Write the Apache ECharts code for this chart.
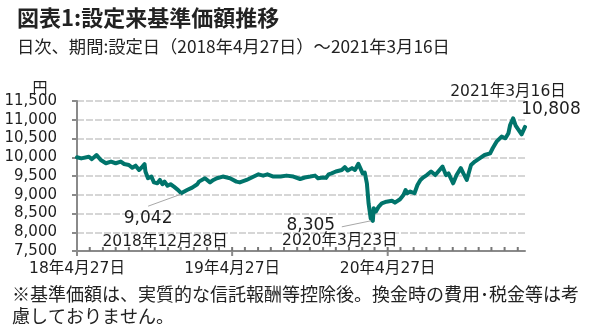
<!DOCTYPE html>
<html>
<head>
<meta charset="utf-8">
<script src="https://cdn.jsdelivr.net/npm/echarts@6/dist/echarts.min.js"></script>
<style>
  html, body { margin: 0; padding: 0; background: #fff; }
  #chart { width: 596px; height: 329px; }
</style>
</head>
<body>
<div id="chart"></div>
<script>
// Fund NAV (基準価額) since inception, yen
const navDates = [
  '2018-04-27','2018-05-07','2018-05-25','2018-06-01','2018-06-12','2018-06-22','2018-07-04','2018-07-16',
  '2018-07-27','2018-08-08','2018-08-16','2018-08-27','2018-09-04','2018-09-12','2018-09-20','2018-09-28',
  '2018-10-03','2018-10-05','2018-10-11','2018-10-19','2018-10-25','2018-11-02','2018-11-08','2018-11-14',
  '2018-11-19','2018-11-26','2018-12-03','2018-12-11','2018-12-14','2018-12-21','2018-12-28','2019-01-11',
  '2019-01-23','2019-02-04','2019-02-08','2019-02-22','2019-03-06','2019-03-14','2019-03-22','2019-04-05',
  '2019-04-22','2019-05-07','2019-05-15','2019-05-31','2019-06-17','2019-06-28','2019-07-09','2019-07-19',
  '2019-08-02','2019-08-19','2019-09-02','2019-09-18','2019-10-04','2019-10-15','2019-10-28','2019-11-08',
  '2019-11-15','2019-11-27','2019-12-04','2019-12-10','2019-12-17','2019-12-27','2020-01-10','2020-01-17',
  '2020-01-24','2020-02-03','2020-02-10','2020-02-18','2020-02-21','2020-02-28','2020-03-04','2020-03-09',
  '2020-03-13','2020-03-18','2020-03-23','2020-03-25','2020-03-30','2020-04-06','2020-04-13','2020-04-24',
  '2020-05-07','2020-05-14','2020-05-26','2020-06-03','2020-06-08','2020-06-12','2020-06-19','2020-06-29',
  '2020-07-06','2020-07-13','2020-07-20','2020-07-28','2020-08-07','2020-08-17','2020-08-24','2020-09-03',
  '2020-09-11','2020-09-17','2020-09-28','2020-10-06','2020-10-16','2020-10-22','2020-10-30','2020-11-09',
  '2020-11-18','2020-11-30','2020-12-11','2020-12-24','2020-12-30','2021-01-08','2021-01-20','2021-01-29',
  '2021-02-05','2021-02-09','2021-02-16','2021-02-22','2021-02-26','2021-03-08','2021-03-16'
];
const navValues = [
  10000, 9970, 10015, 9950, 10060, 9925, 9840, 9885,
  9840, 9885, 9820, 9795, 9720, 9775, 9660, 9750,
  9815, 9620, 9440, 9485, 9330, 9305, 9395, 9280,
  9350, 9240, 9280, 9215, 9170, 9125, 9042, 9125,
  9190, 9280, 9350, 9440, 9330, 9395, 9440, 9485,
  9440, 9350, 9330, 9395, 9485, 9545, 9510, 9545,
  9485, 9485, 9510, 9485, 9420, 9460, 9485, 9510,
  9440, 9460, 9450, 9545, 9570, 9620, 9660, 9735,
  9645, 9710, 9660, 9825, 9795, 9570, 9590, 9305,
  8770, 8370, 8305, 8640, 8550, 8685, 8770, 8815,
  8840, 8790, 8880, 8995, 9125, 9040, 9085, 9040,
  9260, 9395, 9465, 9525, 9620, 9525, 9620, 9750,
  9525, 9570, 9305, 9525, 9710, 9570, 9395, 9795,
  9885, 9975, 10060, 10105, 10240, 10415, 10550, 10505,
  10640, 10860, 11040, 10845, 10775, 10610, 10808
];

// Axis ticks
const yMin = 7500, yMax = 11500, yStep = 500;
const xStart = '2018-04-27', xEnd = '2021-03-16';
const xTickDates = ['2018-04-27', '2019-04-27', '2020-04-27'];
const xTickLabels = ['18年4月27日', '19年4月27日', '20年4月27日'];

// Callouts: low points and latest value
const callouts = [
  { date: '2018-12-28', dateText: '2018年12月28日' },
  { date: '2020-03-23', dateText: '2020年3月23日' },
  { date: '2021-03-16', dateText: '2021年3月16日' }
];

const titleText = '図表1:設定来基準価額推移';
const subtitleText = '日次、期間:設定日（2018年4月27日）～2021年3月16日';
const noteLines = ['※基準価額は、実質的な信託報酬等控除後。換金時の費用･税金等は考', '慮しておりません。'];
const unitText = '円';

// dates are placed on a linear (millisecond) value axis
const ts = d => echarts.number.parseDate(d).getTime();

// small monthly ticks on the 27th of each month
const monthTicks = [];
for (let y = 2018, m = 5; y < 2021 || (y === 2021 && m <= 2); ) {
  monthTicks.push(ts(y + '-' + String(m).padStart(2, '0') + '-27'));
  m++; if (m > 12) { m = 1; y++; }
}

const LINE_COLOR = '#00746b';
const AXIS_COLOR = '#8a8a8a';
const TEXT_COLOR = '#1e1e1e';
const NUM_FONT = '"DejaVu Sans", "Noto Sans CJK JP", sans-serif';
const JP_FONT = '"Noto Sans CJK JP", sans-serif';

const fmt = v => v.toLocaleString('en-US');
const xTickValues = xTickDates.map(ts);
const labelByTs = {};
xTickValues.forEach((t, i) => { labelByTs[t] = xTickLabels[i]; });
const navPoints = navDates.map((d, i) => [ts(d), navValues[i]]);

const chart = echarts.init(document.getElementById('chart'), null, { renderer: 'canvas' });

chart.setOption({
  animation: false,
  backgroundColor: '#fff',
  title: [
    { text: titleText, left: 12, top: 2,
      textStyle: { fontFamily: JP_FONT, fontSize: 22, fontWeight: 'bold', color: '#222' } },
    { text: subtitleText, left: 12, top: 33,
      textStyle: { fontFamily: JP_FONT, fontSize: 17.3, fontWeight: 'normal', color: '#222' } }
  ],
  grid: { left: 77, right: 71, top: 101, bottom: 78, containLabel: false },
  xAxis: {
    type: 'value', min: ts(xStart), max: ts(xEnd),
    axisLine: { onZero: false, lineStyle: { color: AXIS_COLOR, width: 2 } },
    axisTick: { show: false },
    axisLabel: {
      customValues: xTickValues, margin: 10, fontFamily: NUM_FONT, fontSize: 15.5, color: TEXT_COLOR,
      formatter: v => labelByTs[v] || ''
    },
    splitLine: { show: false }
  },
  yAxis: {
    type: 'value', min: yMin, max: yMax, interval: yStep,
    axisLine: { show: true, lineStyle: { color: AXIS_COLOR, width: 2 } },
    axisTick: { show: true, length: 5, lineStyle: { color: AXIS_COLOR, width: 2 } },
    axisLabel: { margin: 20, fontFamily: NUM_FONT, fontSize: 15, color: TEXT_COLOR, formatter: v => fmt(v) },
    splitLine: { show: true, lineStyle: { color: '#c9c9c9', width: 1.5, type: [7, 2] } }
  },
  series: [{
    type: 'line', data: navPoints, showSymbol: false,
    lineStyle: { color: LINE_COLOR, width: 4, join: 'round', cap: 'round' },
    z: 5
  }]
});

const graphics = [];
const toPx = (x, y) => chart.convertToPixel({ xAxisIndex: 0, yAxisIndex: 0 }, [x, y]);
const seg = (x1, y1, x2, y2, color, w) => ({
  type: 'line', z: 9, shape: { x1, y1, x2, y2 }, style: { stroke: color, lineWidth: w }
});
const txt = (x, y, text, align, font, size) => ({
  type: 'text', x, y, z: 10,
  style: { text, fill: TEXT_COLOR, font: size + 'px ' + font, align, verticalAlign: 'middle' }
});

// x-axis ticks: yearly ticks below the axis, monthly ticks inside
const axisY = toPx(ts(xStart), yMin)[1];
xTickValues.forEach(t => { const x = toPx(t, yMin)[0]; graphics.push(seg(x, axisY, x, axisY + 5, AXIS_COLOR, 2)); });
monthTicks.forEach(t => { const x = toPx(t, yMin)[0]; graphics.push(seg(x, axisY, x, axisY - 4, '#777', 2)); });

// callout text and leader lines, anchored on the data points
callouts.forEach((c, k) => {
  const v = navValues[navDates.indexOf(c.date)];
  const [px, py] = toPx(ts(c.date), v);
  if (k === 0) {
    graphics.push(seg(px, py + 1, px - 33, py + 13, '#a8a8a8', 1));
    graphics.push(txt(px - 33, py + 25, fmt(v), 'center', NUM_FONT, 17));
    graphics.push(txt(px - 16, py + 49, c.dateText, 'center', NUM_FONT, 15.5));
  } else if (k === 1) {
    graphics.push(seg(px - 2, py, px - 31, py + 6, '#a8a8a8', 1));
    graphics.push(txt(px - 62, py + 5, fmt(v), 'center', NUM_FONT, 17));
    graphics.push(txt(px - 33, py + 20, c.dateText, 'center', NUM_FONT, 15.5));
  } else {
    graphics.push(txt(px + 26, py - 17, fmt(v), 'center', NUM_FONT, 17));
    graphics.push(txt(px - 17, py - 35, c.dateText, 'center', NUM_FONT, 15.5));
  }
});

graphics.push(txt(40, 87, unitText, 'center', JP_FONT, 15));
graphics.push({ type: 'text', left: 12, top: 285, z: 10,
  style: { text: noteLines[0], fill: '#222', font: '18px ' + JP_FONT } });
graphics.push({ type: 'text', left: 12, top: 307, z: 10,
  style: { text: noteLines[1], fill: '#222', font: '18px ' + JP_FONT } });

chart.setOption({ graphic: graphics });
</script>
</body>
</html>
